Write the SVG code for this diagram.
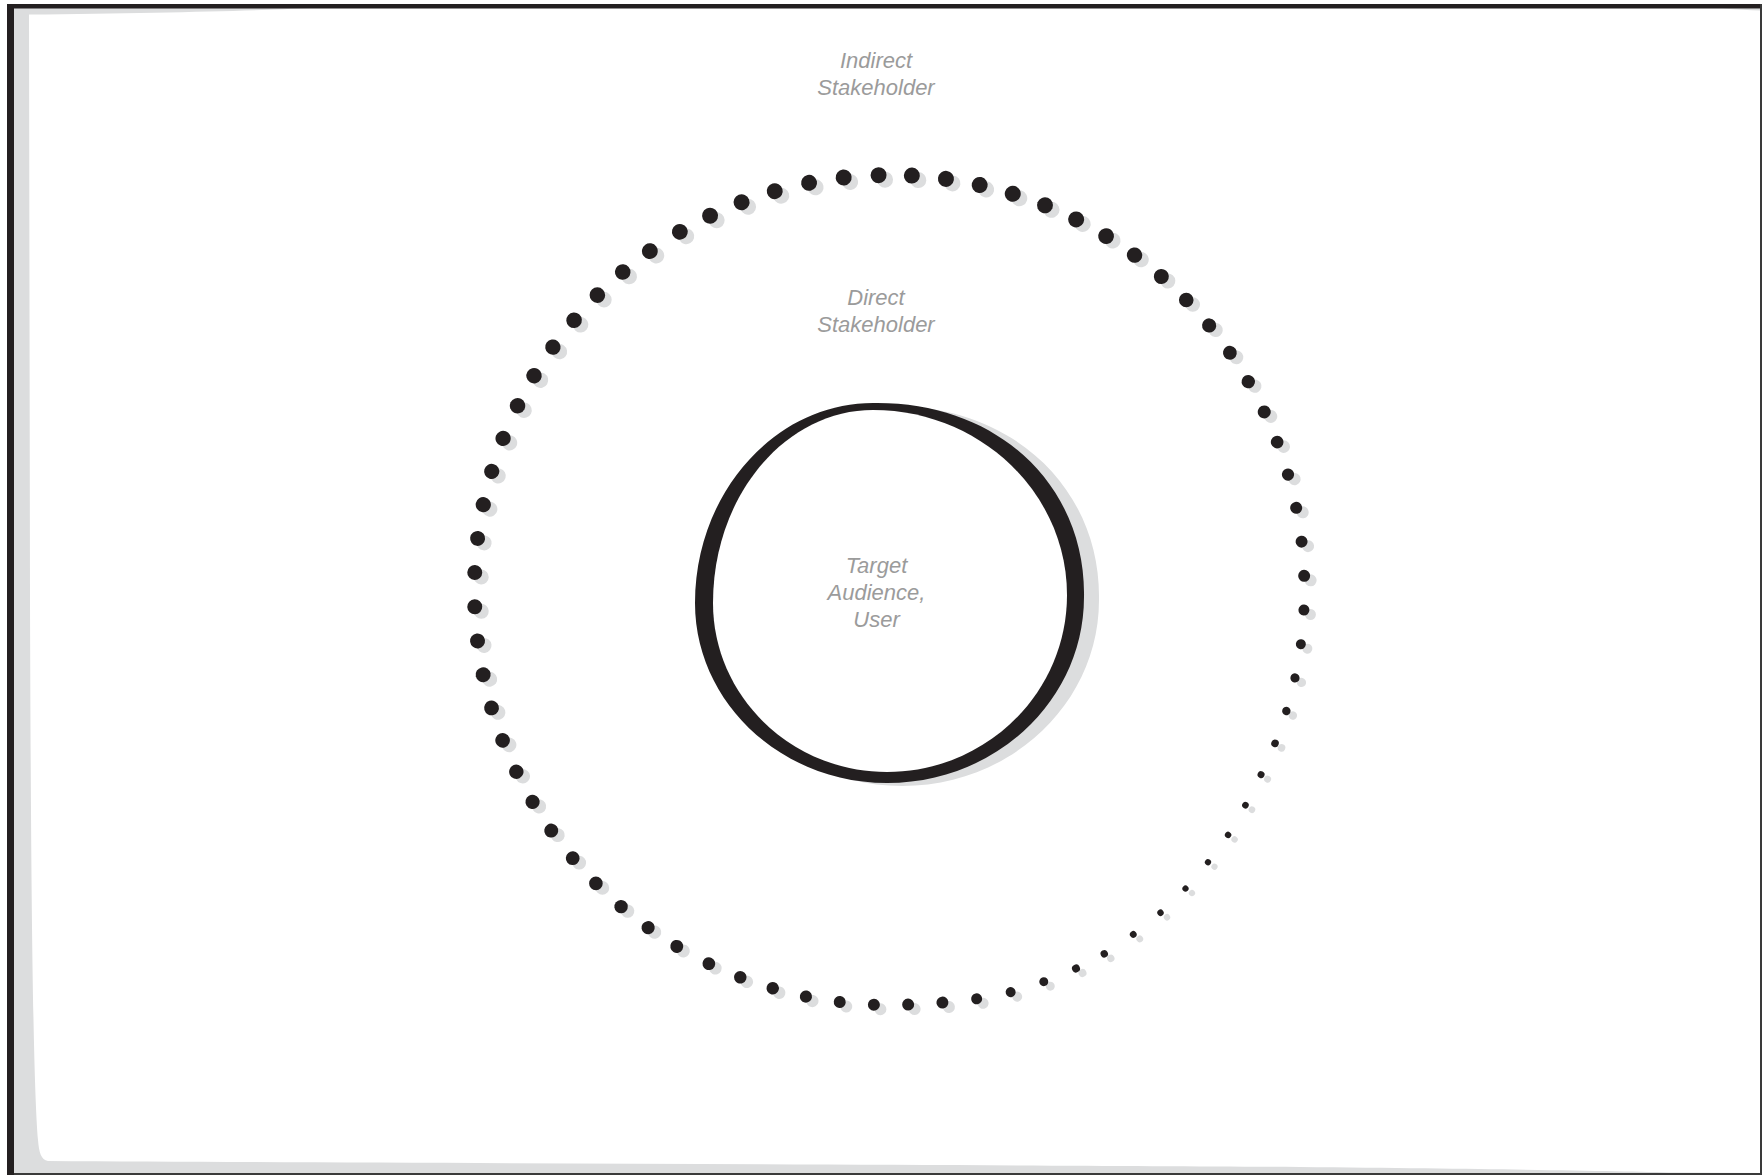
<svg xmlns="http://www.w3.org/2000/svg" xmlns:xlink="http://www.w3.org/1999/xlink" width="1762" height="1175" viewBox="0 0 1762 1175">
<style>
.lbl{font-family:"Liberation Sans",Arial,sans-serif;font-style:italic;font-size:22px;fill:#9b9b9b;text-anchor:middle}
.ink{fill:#231f20}
.shade{fill:#dcddde}
</style>
<defs>
<g id="ringdots">
<circle cx="1304.4" cy="590" r="8" transform="rotate(-86.9 889.4 590)"/>
<circle cx="1304.4" cy="590" r="8" transform="rotate(-82.17 889.4 590)"/>
<circle cx="1304.4" cy="590" r="8" transform="rotate(-77.44 889.4 590)"/>
<circle cx="1304.4" cy="590" r="8" transform="rotate(-72.71 889.4 590)"/>
<circle cx="1304.4" cy="590" r="8" transform="rotate(-67.98 889.4 590)"/>
<circle cx="1304.4" cy="590" r="8" transform="rotate(-63.25 889.4 590)"/>
<circle cx="1304.4" cy="590" r="7.9" transform="rotate(-58.52 889.4 590)"/>
<circle cx="1304.4" cy="590" r="7.7" transform="rotate(-53.79 889.4 590)"/>
<circle cx="1304.4" cy="590" r="7.5" transform="rotate(-49.06 889.4 590)"/>
<circle cx="1304.4" cy="590" r="7.3" transform="rotate(-44.33 889.4 590)"/>
<circle cx="1304.4" cy="590" r="7.1" transform="rotate(-39.6 889.4 590)"/>
<circle cx="1304.4" cy="590" r="6.9" transform="rotate(-34.87 889.4 590)"/>
<circle cx="1304.4" cy="590" r="6.7" transform="rotate(-30.14 889.4 590)"/>
<circle cx="1304.4" cy="590" r="6.5" transform="rotate(-25.41 889.4 590)"/>
<circle cx="1304.4" cy="590" r="6.3" transform="rotate(-20.88 889.4 590)"/>
<circle cx="1304.4" cy="590" r="6.1" transform="rotate(-16.15 889.4 590)"/>
<circle cx="1304.4" cy="590" r="6" transform="rotate(-11.42 889.4 590)"/>
<circle cx="1304.4" cy="590" r="6" transform="rotate(-6.69 889.4 590)"/>
<circle cx="1304.4" cy="590" r="6" transform="rotate(-1.96 889.4 590)"/>
<circle cx="1304.4" cy="590" r="5.5" transform="rotate(2.77 889.4 590)"/>
<circle cx="1304.4" cy="590" r="5" transform="rotate(7.5 889.4 590)"/>
<circle cx="1304.4" cy="590" r="4.6" transform="rotate(12.23 889.4 590)"/>
<circle cx="1304.4" cy="590" r="4.2" transform="rotate(16.96 889.4 590)"/>
<circle cx="1304.4" cy="590" r="3.8" transform="rotate(21.69 889.4 590)"/>
<circle cx="1304.4" cy="590" r="3.5" transform="rotate(26.42 889.4 590)"/>
<circle cx="1305.4" cy="590" r="3.3" transform="rotate(31.15 889.4 590)"/>
<circle cx="1307.4" cy="590" r="3.2" transform="rotate(35.88 889.4 590)"/>
<circle cx="1308.4" cy="590" r="3.1" transform="rotate(40.51 889.4 590)"/>
<circle cx="1309.9" cy="590" r="3.1" transform="rotate(45.24 889.4 590)"/>
<circle cx="1310.9" cy="590" r="3.2" transform="rotate(49.97 889.4 590)"/>
<circle cx="1311.4" cy="590" r="3.4" transform="rotate(54.7 889.4 590)"/>
<circle cx="1311.9" cy="590" r="3.7" transform="rotate(59.43 889.4 590)"/>
<circle cx="1311.4" cy="590" r="4" transform="rotate(63.76 889.4 590)"/>
<circle cx="1310.4" cy="590" r="4.5" transform="rotate(68.49 889.4 590)"/>
<circle cx="1309.4" cy="590" r="5" transform="rotate(73.22 889.4 590)"/>
<circle cx="1307.4" cy="590" r="5.5" transform="rotate(77.95 889.4 590)"/>
<circle cx="1305.4" cy="590" r="6" transform="rotate(82.68 889.4 590)"/>
<circle cx="1304.4" cy="590" r="6" transform="rotate(87.41 889.4 590)"/>
<circle cx="1304.4" cy="590" r="6" transform="rotate(92.14 889.4 590)"/>
<circle cx="1304.4" cy="590" r="6" transform="rotate(96.87 889.4 590)"/>
<circle cx="1304.4" cy="590" r="6.1" transform="rotate(101.6 889.4 590)"/>
<circle cx="1304.4" cy="590" r="6.2" transform="rotate(106.33 889.4 590)"/>
<circle cx="1304.4" cy="590" r="6.3" transform="rotate(111.06 889.4 590)"/>
<circle cx="1304.4" cy="590" r="6.4" transform="rotate(115.79 889.4 590)"/>
<circle cx="1304.4" cy="590" r="6.5" transform="rotate(120.82 889.4 590)"/>
<circle cx="1304.4" cy="590" r="6.6" transform="rotate(125.55 889.4 590)"/>
<circle cx="1304.4" cy="590" r="6.7" transform="rotate(130.28 889.4 590)"/>
<circle cx="1304.4" cy="590" r="6.8" transform="rotate(135.01 889.4 590)"/>
<circle cx="1304.4" cy="590" r="6.9" transform="rotate(139.74 889.4 590)"/>
<circle cx="1304.4" cy="590" r="7" transform="rotate(144.57 889.4 590)"/>
<circle cx="1304.4" cy="590" r="7.1" transform="rotate(149.3 889.4 590)"/>
<circle cx="1304.4" cy="590" r="7.2" transform="rotate(154.03 889.4 590)"/>
<circle cx="1304.4" cy="590" r="7.3" transform="rotate(158.76 889.4 590)"/>
<circle cx="1304.4" cy="590" r="7.4" transform="rotate(163.49 889.4 590)"/>
<circle cx="1304.4" cy="590" r="7.5" transform="rotate(168.22 889.4 590)"/>
<circle cx="1304.4" cy="590" r="7.5" transform="rotate(172.95 889.4 590)"/>
<circle cx="1304.4" cy="590" r="7.5" transform="rotate(177.68 889.4 590)"/>
<circle cx="1304.4" cy="590" r="7.5" transform="rotate(182.41 889.4 590)"/>
<circle cx="1304.4" cy="590" r="7.5" transform="rotate(187.14 889.4 590)"/>
<circle cx="1304.4" cy="590" r="7.6" transform="rotate(191.87 889.4 590)"/>
<circle cx="1304.4" cy="590" r="7.6" transform="rotate(196.6 889.4 590)"/>
<circle cx="1304.4" cy="590" r="7.6" transform="rotate(201.43 889.4 590)"/>
<circle cx="1304.4" cy="590" r="7.7" transform="rotate(206.36 889.4 590)"/>
<circle cx="1304.4" cy="590" r="7.7" transform="rotate(211.09 889.4 590)"/>
<circle cx="1304.4" cy="590" r="7.7" transform="rotate(215.82 889.4 590)"/>
<circle cx="1304.4" cy="590" r="7.8" transform="rotate(220.55 889.4 590)"/>
<circle cx="1304.4" cy="590" r="7.8" transform="rotate(225.28 889.4 590)"/>
<circle cx="1304.4" cy="590" r="7.8" transform="rotate(230.01 889.4 590)"/>
<circle cx="1304.4" cy="590" r="7.9" transform="rotate(234.74 889.4 590)"/>
<circle cx="1304.4" cy="590" r="7.9" transform="rotate(239.67 889.4 590)"/>
<circle cx="1304.4" cy="590" r="8" transform="rotate(244.4 889.4 590)"/>
<circle cx="1304.4" cy="590" r="8" transform="rotate(249.13 889.4 590)"/>
<circle cx="1304.4" cy="590" r="8" transform="rotate(253.96 889.4 590)"/>
<circle cx="1304.4" cy="590" r="8" transform="rotate(258.84 889.4 590)"/>
<circle cx="1304.4" cy="590" r="8" transform="rotate(263.67 889.4 590)"/>
<circle cx="1304.4" cy="590" r="8" transform="rotate(268.5 889.4 590)"/>
</g>
<path id="innerOuter" d="M873,403 C1000,401 1086,488 1084,597 C1084,700 996,783 887,783 C781,783 695,702 695,603 C695,493 775,403 873,403 Z"/>
</defs>

<g id="frame">
<rect x="0" y="0" width="1762" height="1175" fill="#ffffff"/>
<path class="shade" d="M14,8 L310,8 C250,11 150,13 29,14.5 L30,600 C31,900 33,1080 38,1140 C39,1152 41,1160 48,1161 C400,1163 1000,1165 1300,1167 C1500,1169 1620,1171 1675,1172.5 L1762,1173 L14,1173 Z"/>
<path class="shade" d="M1722,8.5 Q1745,10 1760,10.5 L1760,8.5 Z"/>
<rect class="ink" x="7" y="4" width="1755" height="4.5"/>
<rect class="ink" x="7" y="4" width="7" height="1171"/>
<rect x="14" y="1173" width="1748" height="2" fill="#3a3a3a"/>
<rect x="1760" y="4" width="2" height="1171" fill="#3a3a3a"/>
</g>

<g id="connectors"></g>

<g id="indirect-stakeholder">
<use xlink:href="#ringdots" href="#ringdots" transform="translate(6.5 4.5)" fill="#dcddde"/>
<use xlink:href="#ringdots" href="#ringdots" fill="#231f20"/>
<text class="lbl" x="876" y="68.2">Indirect</text>
<text class="lbl" x="876" y="94.7">Stakeholder</text>
</g>

<g id="direct-stakeholder">
<text class="lbl" x="876" y="305">Direct</text>
<text class="lbl" x="876" y="332">Stakeholder</text>
</g>

<g id="target-audience">
<use xlink:href="#innerOuter" href="#innerOuter" transform="translate(15 3)" fill="#dcddde"/>
<use xlink:href="#innerOuter" href="#innerOuter" fill="#231f20"/>
<path fill="#ffffff" d="M873,410 C980,410 1067,493 1067,595 C1067,693 986,772 887,772 C791,772 713,696 713,603 C713,496 785,410 873,410 Z"/>
<text class="lbl" x="876.5" y="573">Target</text>
<text class="lbl" x="876.5" y="599.5">Audience,</text>
<text class="lbl" x="876.5" y="626.5">User</text>
</g>
</svg>
